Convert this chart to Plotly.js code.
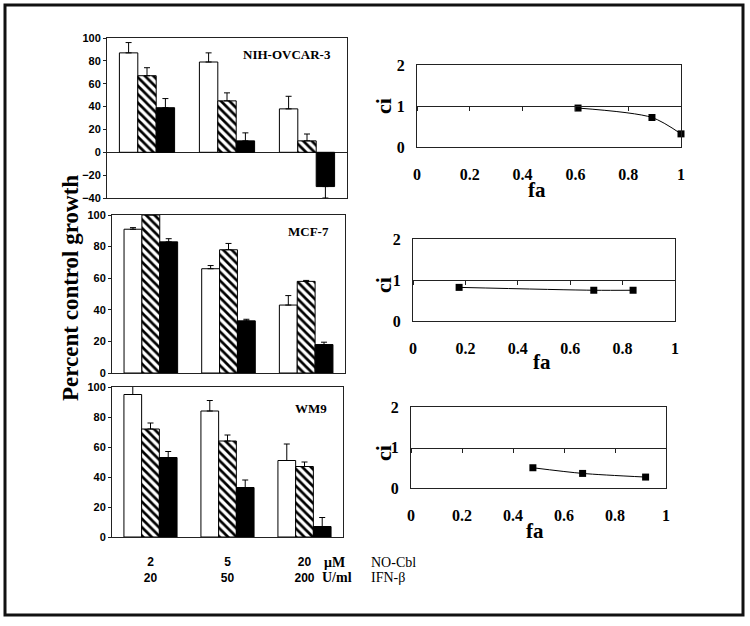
<!DOCTYPE html>
<html>
<head>
<meta charset="utf-8">
<script src="https://cdn.plot.ly/plotly-3.0.1.min.js"></script>
<style>html,body{margin:0;padding:0;background:#fff;}#chart{width:750px;height:626px;}</style>
</head>
<body>
<div id="chart"></div>
<script>
// ---------- data ----------
const doses = ['2/20', '5/50', '20/200'];
const doseCbl = ['2', '5', '20'];
const doseIfn = ['20', '50', '200'];
const cellLines = ['NIH-OVCAR-3', 'MCF-7', 'WM9'];

// NIH-OVCAR-3
const ovNoCbl = [87, 79, 38];
const ovNoCblErr = [9, 8, 11];
const ovIfn = [67, 45, 10];
const ovIfnErr = [7, 7, 6];
const ovCombo = [39, 10, -30];
const ovComboErrUp = [8, 7, 0];
const ovComboErrDown = [0, 0, 10];

// MCF-7
const mcNoCbl = [91, 66, 43];
const mcNoCblErr = [1, 2, 6];
const mcIfn = [100, 78, 58];
const mcIfnErr = [0.8, 4, 0.6];
const mcCombo = [83, 33, 18];
const mcComboErr = [2, 1, 1.5];

// WM9
const wmNoCbl = [95, 84, 51];
const wmNoCblErr = [6, 7, 11];
const wmIfn = [72, 64, 47];
const wmIfnErr = [4, 4, 3];
const wmCombo = [53, 33, 7];
const wmComboErr = [4, 5, 6];

// combination index vs fraction affected
const ovFa = [0.61, 0.89, 1.0];
const ovCi = [0.95, 0.72, 0.32];
const mcFa = [0.176, 0.69, 0.84];
const mcCi = [0.82, 0.75, 0.75];
const wmFa = [0.478, 0.673, 0.92];
const wmCi = [0.50, 0.36, 0.27];

const faTicks = [0, 0.2, 0.4, 0.6, 0.8, 1];
const faTickText = ['0', '0.2', '0.4', '0.6', '0.8', '1'];

// ---------- helpers ----------
const W = 750, H = 626;
const px = x => x / W;
const py = y => 1 - y / H;
const zeros = [0, 0, 0];

const sans = 'Liberation Sans';
const serif = 'Liberation Serif';

function errY(up, down) {
  return {type: 'data', symmetric: false, array: up, arrayminus: down || zeros,
          color: '#000', thickness: 1, width: 3};
}
function barTrace(y, up, down, kind, ax) {
  const marker = {line: {color: '#000', width: 1}};
  if (kind === 'white') marker.color = '#fff';
  else if (kind === 'black') marker.color = '#000';
  else {
    marker.color = '#fff';
    marker.pattern = {shape: '\\', fgcolor: '#000', bgcolor: '#fff', size: 6, solidity: 0.45};
  }
  return {type: 'bar', x: doses, y: y, xaxis: 'x' + ax, yaxis: 'y' + ax,
          marker: marker, error_y: errY(up, down), cliponaxis: false,
          showlegend: false, hoverinfo: 'skip'};
}
function ciTrace(fa, ci, ax) {
  return {type: 'scatter', mode: 'lines+markers', x: fa, y: ci,
          xaxis: 'x' + ax, yaxis: 'y' + ax,
          line: {color: '#000', width: 1, shape: 'spline', smoothing: 0.8},
          marker: {symbol: 'square', size: 7, color: '#000'},
          cliponaxis: false, showlegend: false, hoverinfo: 'skip'};
}

const traces = [
  barTrace(ovNoCbl, ovNoCblErr, null, 'white', ''),
  barTrace(ovIfn, ovIfnErr, null, 'hatch', ''),
  barTrace(ovCombo, ovComboErrUp, ovComboErrDown, 'black', ''),
  barTrace(mcNoCbl, mcNoCblErr, null, 'white', '2'),
  barTrace(mcIfn, mcIfnErr, null, 'hatch', '2'),
  barTrace(mcCombo, mcComboErr, null, 'black', '2'),
  barTrace(wmNoCbl, wmNoCblErr, null, 'white', '3'),
  barTrace(wmIfn, wmIfnErr, null, 'hatch', '3'),
  barTrace(wmCombo, wmComboErr, null, 'black', '3'),
  ciTrace(ovFa, ovCi, '4'),
  ciTrace(mcFa, mcCi, '5'),
  ciTrace(wmFa, wmCi, '6'),
  // carriers for the ci = 1 reference axes
  {type: 'scatter', x: [], y: [], xaxis: 'x7', yaxis: 'y4', showlegend: false, hoverinfo: 'skip'},
  {type: 'scatter', x: [], y: [], xaxis: 'x8', yaxis: 'y5', showlegend: false, hoverinfo: 'skip'},
  {type: 'scatter', x: [], y: [], xaxis: 'x9', yaxis: 'y6', showlegend: false, hoverinfo: 'skip'}
];

const layout = {
  width: W, height: H, autosize: false,
  margin: {l: 0, r: 0, t: 0, b: 0},
  paper_bgcolor: '#fff', plot_bgcolor: '#fff',
  barmode: 'group', bargap: 0.31, bargroupgap: 0,
  showlegend: false,
  shapes: [
    {type: 'rect', xref: 'paper', yref: 'paper', x0: px(5), x1: px(743), y0: py(615), y1: py(5),
     line: {color: '#111', width: 3}}
  ],
  annotations: []
};

// left bar panels
const leftBoxes = [
  {ax: '', x: [107, 347], y: [38, 198], range: [-40, 100], dtick: 20},
  {ax: '2', x: [112, 345], y: [215, 373], range: [0, 100], dtick: 20},
  {ax: '3', x: [112, 343], y: [387, 537], range: [0, 100], dtick: 20}
];
leftBoxes.forEach((b, i) => {
  const xa = {
    domain: [px(b.x[0]), px(b.x[1])], anchor: 'y' + b.ax,
    type: 'category', range: [-0.5, 2.5],
    showline: true, mirror: true, linecolor: '#222', linewidth: 1,
    ticks: '', showticklabels: false, showgrid: false, zeroline: false, fixedrange: true
  };
  const ya = {
    domain: [py(b.y[1]), py(b.y[0])], anchor: 'x' + b.ax,
    range: b.range, dtick: b.dtick, tick0: 0,
    showline: true, mirror: true, linecolor: '#222', linewidth: 1,
    ticks: 'outside', ticklen: 3, tickcolor: '#222',
    tickfont: {family: sans, size: 11, color: '#000', weight: 'bold'},
    showgrid: false, zeroline: i === 0, zerolinecolor: '#222', zerolinewidth: 1, fixedrange: true
  };
  if (i === 2) {
    xa.showticklabels = true;
    xa.tickmode = 'array';
    xa.tickvals = doses;
    xa.ticktext = doses.map((d, k) => doseCbl[k] + '<br>' + doseIfn[k]);
    xa.tickfont = {family: sans, size: 12, color: '#000', weight: 'bold'};
    xa.ticklabelstandoff = 14;
  }
  layout['xaxis' + b.ax] = xa;
  layout['yaxis' + b.ax] = ya;
  layout.annotations.push({
    xref: 'x' + b.ax + ' domain', yref: 'paper', x: 0.94, y: py([55, 232, 408][i]),
    xanchor: 'right', yanchor: 'middle', showarrow: false, text: cellLines[i],
    font: {family: serif, size: 13, color: '#000', weight: 'bold'}
  });
});

// right ci panels
const rightBoxes = [
  {ax: '4', ref: '7', x: [417, 681], y: [65, 147], fa: [537, 190], ci: [384, 106]},
  {ax: '5', ref: '8', x: [413, 675], y: [239, 321], fa: [542, 362], ci: [383, 285]},
  {ax: '6', ref: '9', x: [411, 666], y: [407, 488], fa: [535, 531], ci: [383, 453]}
];
rightBoxes.forEach(b => {
  const yd = [py(b.y[1]), py(b.y[0])];
  layout['xaxis' + b.ax] = {
    domain: [px(b.x[0]), px(b.x[1])], anchor: 'y' + b.ax, range: [0, 1],
    tickmode: 'array', tickvals: faTicks, ticktext: faTickText,
    showline: true, mirror: true, linecolor: '#222', linewidth: 1,
    ticks: '', ticklabelstandoff: 13,
    tickfont: {family: serif, size: 16, color: '#000', weight: 'bold'},
    showgrid: false, zeroline: false, fixedrange: true
  };
  layout['yaxis' + b.ax] = {
    domain: yd, anchor: 'x' + b.ax, range: [0, 2], dtick: 1, tick0: 0,
    showline: true, mirror: true, linecolor: '#222', linewidth: 1,
    ticks: '', ticklabelstandoff: 8,
    tickfont: {family: serif, size: 16, color: '#000', weight: 'bold'},
    showgrid: false, zeroline: false, fixedrange: true
  };
  // reference axis at ci = 1 with small tick marks
  layout['xaxis' + b.ref] = {
    overlaying: 'x' + b.ax, anchor: 'free', position: (yd[0] + yd[1]) / 2,
    range: [0, 1], dtick: 0.2, tick0: 0, side: 'bottom',
    showline: true, linecolor: '#222', linewidth: 1,
    ticks: 'outside', ticklen: 4, tickcolor: '#222',
    showticklabels: false, showgrid: false, zeroline: false, fixedrange: true
  };
  layout.annotations.push({
    xref: 'paper', yref: 'paper', x: px(b.fa[0]), y: py(b.fa[1]),
    xanchor: 'center', yanchor: 'middle', showarrow: false, text: 'fa',
    font: {family: serif, size: 21, color: '#000', weight: 'bold'}
  });
  layout.annotations.push({
    xref: 'paper', yref: 'paper', x: px(b.ci[0]), y: py(b.ci[1]),
    xanchor: 'center', yanchor: 'middle', showarrow: false, text: 'ci', textangle: -90,
    font: {family: serif, size: 22, color: '#000', weight: 'bold'}
  });
});

// y title of the bar panels
layout.annotations.push({
  xref: 'paper', yref: 'paper', x: px(70), y: py(288), xanchor: 'center', yanchor: 'middle',
  showarrow: false, text: 'Percent control growth', textangle: -90,
  font: {family: serif, size: 23, color: '#000', weight: 'bold'}
});
// unit and agent labels
const unitLabels = [['μM', 334, 562], ['U/ml', 337, 577]];
const agentLabels = [['NO-Cbl', 369, 562], ['IFN-β', 369, 577]];
unitLabels.forEach(u => layout.annotations.push({
  xref: 'paper', yref: 'paper', x: px(u[1]), y: py(u[2]), xanchor: 'center', yanchor: 'middle',
  showarrow: false, text: u[0], font: {family: serif, size: 14, color: '#000', weight: 'bold'}
}));
agentLabels.forEach(u => layout.annotations.push({
  xref: 'paper', yref: 'paper', x: px(u[1]), y: py(u[2]), xanchor: 'left', yanchor: 'middle',
  showarrow: false, text: u[0], font: {family: serif, size: 14, color: '#000'}
}));

Plotly.newPlot('chart', traces, layout, {displayModeBar: false, staticPlot: true});
</script>
</body>
</html>
